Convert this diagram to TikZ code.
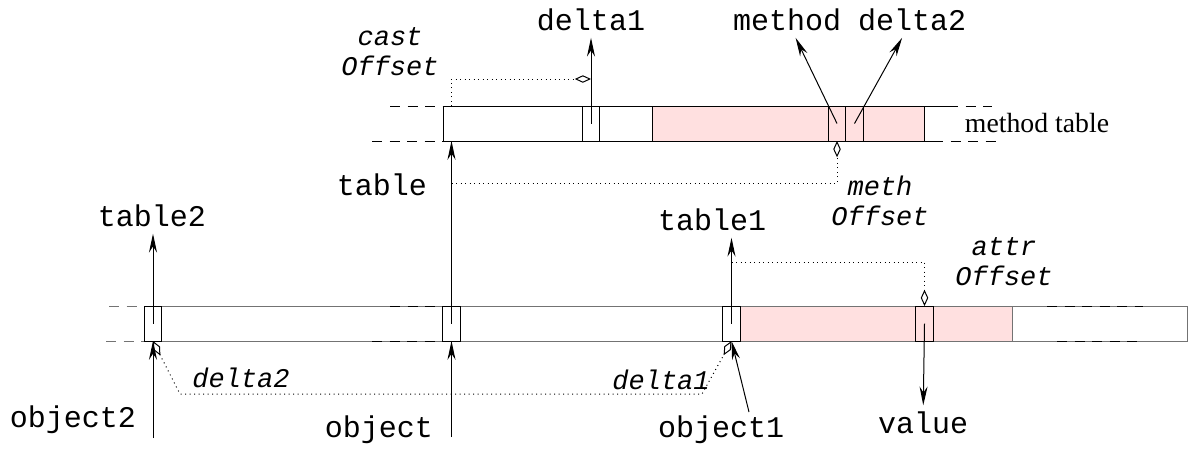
\documentclass[tikz,border=0pt]{standalone}
\usepackage{fontspec}
\setmainfont{Liberation Serif}
\setmonofont{Liberation Mono}
\usepackage{tikz}
\usetikzlibrary{arrows.meta,positioning,calc}
\definecolor{tabpink}{RGB}{255,224,224}

\begin{document}
\begin{tikzpicture}[
    x=0.4pt, y=-0.4pt,
    slot/.style={rectangle, draw, minimum width=7pt, minimum height=14pt, inner sep=0pt, outer sep=0pt},
    lbl/.style={font=\fontsize{12}{14}\selectfont\ttfamily, inner sep=2.5pt},
    off/.style={font=\fontsize{10.8}{12}\selectfont\ttfamily\itshape, align=center, inner sep=1pt},
    ptr/.style={-{Stealth[length=7.5pt,width=3.2pt]}},
    offs/.style={-{Diamond[open,length=6.5pt,width=3pt]}, dash pattern=on 0.4pt off 1.4pt},
    offs2/.style={{Diamond[open,length=6.5pt,width=3pt]}-{Diamond[open,length=6.5pt,width=3pt]}, dash pattern=on 0.4pt off 1.4pt},
    ext/.style={dash pattern=on 4pt off 3pt}
]
\useasboundingbox (0,0) rectangle (1192,449);

% Method table
\fill[tabpink] (652,106) rectangle (924,141);
\draw (443,106) rectangle (924,141);
\draw (652,106) -- (652,141);
\draw (924,106) -- (948,106);
\draw (924,141) -- (933,141);
\draw[ext] (390,106) -- (443,106);
\draw[ext] (372,141) -- (443,141);
\draw[ext] (948,106) -- (992,106);
\draw[ext] (933,141) -- (997,141);
\node[slot] (td1) at (591,123.5) {};
\node[slot] (tmeth) at (837,123.5) {};
\node[slot] (td2) at (854.5,123.5) {};
\node[font=\fontsize{11.1}{13}\selectfont] (mtab) at (1037,123) {method table};

% Entries of the method table
\node[lbl] (ldelta1) at (591,20) {delta1};
\node[lbl] (lmeth) at (787,20) {method};
\node[lbl] (ldelta2) at (912,20) {delta2};
\draw[ptr] (td1.center) -- (ldelta1);
\draw[ptr] (tmeth.center) -- (lmeth);
\draw[ptr] (td2.center) -- (ldelta2);

% Cast offset
\coordinate (cast0) at (451,106);
\coordinate (cast1) at (591,79);
\draw[offs] (cast0) |- (cast1);
\node[off] (lcast) at (390,52) {cast\\Offset};

% Object layout
\fill[tabpink] (740,306) rectangle (1012,341);
\draw[black!55] (144,306) rectangle (1187,341);
\draw[black!55] (740,306) -- (740,341);
\draw[black!55] (1012,306) -- (1012,341);
\draw[ext, black!55] (109,306) -- (144,306);
\draw[ext, black!55] (106,341) -- (144,341);
\draw[ext] (390,306) -- (443,306);
\draw[ext] (372,341) -- (443,341);
\draw[ext] (1047,306) -- (1143,306);
\draw[ext] (1057,341) -- (1143,341);
\node[slot] (s2) at (153,323.5) {};
\node[slot] (s0) at (451.5,323.5) {};
\node[slot] (s1) at (731.5,323.5) {};
\node[slot] (sattr) at (924.5,323.5) {};

% Object pointer and table
\node[lbl] (lobj) at (379,430) {object};
\coordinate (o0) at (451.5,437);
\draw[ptr] (o0) -- (s0.south);
\coordinate (tbase) at (451.5,141);
\draw[ptr] (s0.center) -- (tbase);
\node[lbl] (ltable) at (382,185) {table};
\coordinate (tm) at (451.5,183);
\draw[offs] (tm) -| (tmeth.south);
\node[off] (lmoff) at (880,201) {meth\\Offset};

% Second view
\node[lbl] (ltable2) at (152,216) {table2};
\draw[ptr] (s2.center) -- (s2.center |- ltable2.south);
\node[lbl] (lobj2) at (73,420) {object2};
\coordinate (o2) at (153,438);
\draw[ptr] (o2) -- (s2.south);

% First view
\node[lbl] (ltable1) at (712,220) {table1};
\draw[ptr] (s1.center) -- (s1.center |- ltable1.south);
\node[lbl] (lobj1) at (721,430) {object1};
\coordinate (o1) at (749,412);
\draw[ptr] (o1) -- (s1.south);

% Attribute offset
\coordinate (ta) at (731.5,262);
\draw[offs] (ta) -| (sattr.north);
\node[off] (laoff) at (1004,262) {attr\\Offset};
\node[lbl] (lval) at (923,423) {value};
\draw[ptr] (sattr.center) -- (lval);

% Deltas
\coordinate (dl) at (180,394);
\coordinate (dr) at (702,394);
\draw[offs2] (s2.south) -- (dl) -- (dr) -- (s1.south);
\node[off] (ld2) at (241,378) {delta2};
\node[off] (ld1) at (661,380) {delta1};

\end{tikzpicture}
\end{document}
